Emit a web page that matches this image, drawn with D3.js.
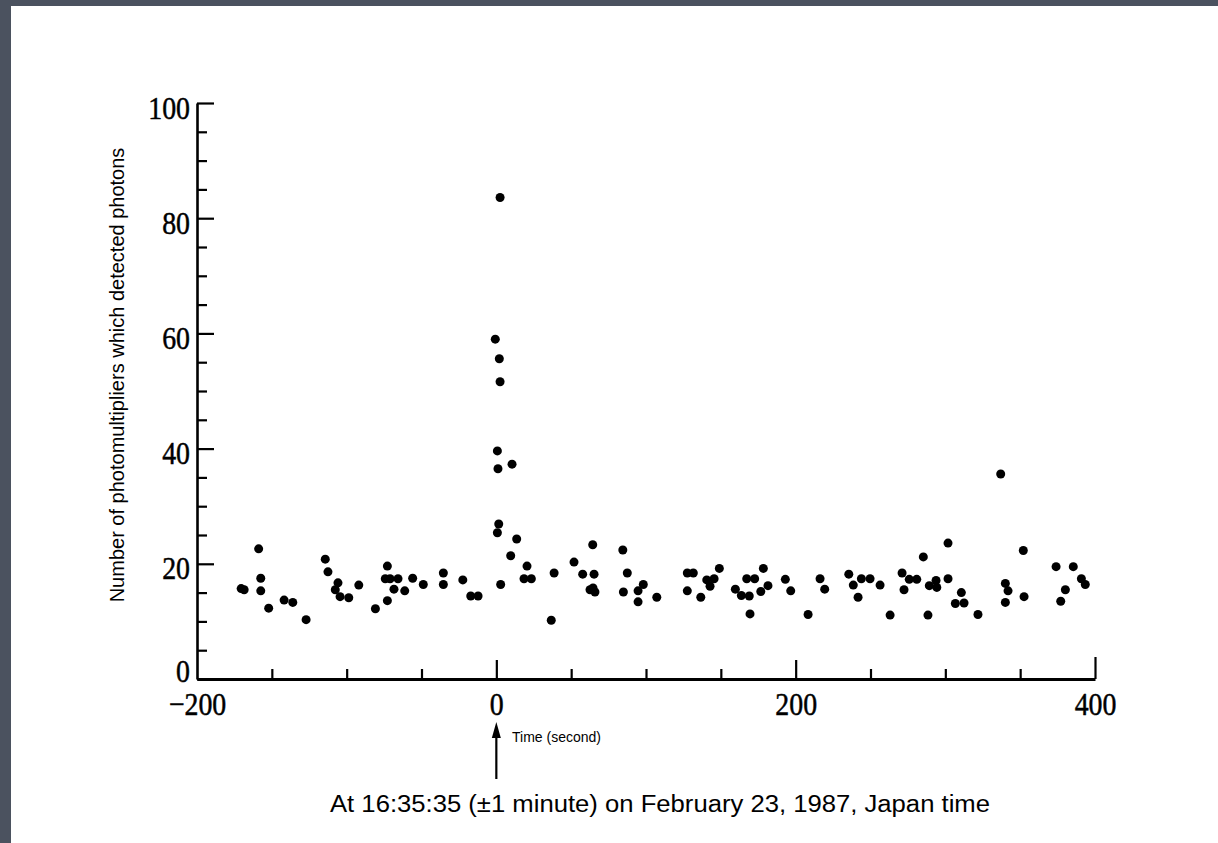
<!DOCTYPE html>
<html><head><meta charset="utf-8">
<script src="https://cdn.jsdelivr.net/npm/d3@7"></script>
<style>body{margin:0;background:#4b525f;overflow:hidden} svg{display:block}</style>
</head><body><svg id="c" width="1218" height="843"></svg>
<script>
// ---- data ----
const times = [-170.5,-168.5,-158.8,-157.4,-157.4,-152.1,-141.8,-136.0,-127.1,-114.3,-112.5,-105.8,-107.6,-104.4,-98.6,-91.9,-80.8,-72.8,-74.2,-71.0,-72.8,-68.4,-65.7,-61.2,-55.9,-48.8,-35.4,-35.4,-22.4,-17.1,-12.2,
2.5,-0.7,2.0,2.5,0.7,1.1,10.5,1.6,0.7,13.6,9.6,2.9,20.5,18.5,23.4,36.7,38.6,51.9,57.7,64.4,65.3,62.6,64.6,65.9,84.5,87.5,84.9,94.7,94.7,98.2,107.2,
127.6,131.6,127.6,136.6,140.6,145.5,142.8,149.0,159.7,163.7,169.0,167.3,172.6,169.5,178.4,176.7,181.5,193.1,196.7,208.3,216.3,219.4,235.5,238.5,243.9,249.7,241.7,256.4,263.1,
271.1,272.4,275.9,280.9,285.3,288.4,289.3,293.8,294.3,301.8,301.8,310.7,306.7,312.5,321.8,337.0,340.1,341.9,340.1,352.1,352.6,374.0,377.1,380.2,385.5,390.9,393.5];
const counts = [15.7,15.5,22.6,17.5,15.3,12.3,13.7,13.3,10.3,20.8,18.6,16.7,15.5,14.3,14.1,16.3,12.2,19.6,17.4,17.4,13.6,15.6,17.4,15.3,17.5,16.4,18.4,16.4,17.2,14.4,14.4,
83.6,59.0,55.6,51.6,39.6,36.5,37.3,26.9,25.4,24.3,21.4,16.4,19.6,17.4,17.4,10.2,18.4,20.3,18.2,23.3,18.2,15.5,15.8,15.1,22.4,18.4,15.1,13.4,15.3,16.4,14.2,
18.4,18.4,15.3,14.2,17.2,17.4,16.1,19.2,15.6,14.5,14.4,17.4,17.4,11.3,19.2,15.2,16.2,17.3,15.3,11.2,17.4,15.6,18.2,16.3,17.4,17.4,14.2,16.3,11.1,
18.4,15.5,17.3,17.3,21.2,11.1,16.2,17.1,15.9,23.6,17.4,15.0,13.1,13.2,11.2,35.6,16.6,15.3,13.3,22.3,14.3,19.5,13.5,15.5,19.5,17.4,16.4];
const xMajorTicks = [-200, 0, 200, 400];
const xMajorLabels = ["\u2212200", "0", "200", "400"];
const xMinorTicks = [-150, -100, -50, 50, 100, 150, 250, 300, 350];
const yMajorTicks = [0, 20, 40, 60, 80, 100];
const yMajorLabels = ["0", "20", "40", "60", "80", "100"];
const yMinorTicks = d3.range(5, 100, 5).filter(v => v % 20 !== 0);
const yTitle = "Number of photomultipliers which detected photons";
const xTitle = "Time (second)";
const note = "At 16:35:35 (\u00b11 minute) on February 23, 1987, Japan time";

// ---- drawing ----
const svg = d3.select("#c");
svg.append("rect").attr("x", 11).attr("y", 6).attr("width", 1207).attr("height", 837).attr("fill", "#fff");

const x = d3.scaleLinear().domain([-200, 400]).range([197, 1095]);
const y = d3.scaleLinear().domain([0, 100]).range([679, 103]);
const serif = "'Liberation Serif', 'Times New Roman', serif";
const sans = "'Liberation Sans', Arial, sans-serif";
const sx = 0.87;

// y axis: major ticks with labels
const yAx = svg.append("g").attr("transform", `translate(${x(-200)},0)`)
  .call(d3.axisLeft(y).tickValues(yMajorTicks).tickSizeInner(-17).tickSizeOuter(0).tickPadding(7)
    .tickFormat((d, i) => yMajorLabels[i]));
yAx.select(".domain").attr("stroke", "#000").attr("stroke-width", 2.6);
yAx.selectAll(".tick line").attr("stroke", "#000").attr("stroke-width", 2.2);
yAx.selectAll(".tick text")
  .attr("font-family", serif).attr("font-size", 32).attr("fill", "#000")
  .attr("stroke", "#000").attr("stroke-width", 0.5)
  .attr("x", -7 / sx)
  .attr("transform", `scale(${sx},1)`)
  .attr("dy", d => d === 0 ? 2 : 15);

// y minor ticks
const yMin = svg.append("g").attr("transform", `translate(${x(-200)},0)`)
  .call(d3.axisLeft(y).tickValues(yMinorTicks).tickSizeInner(-10).tickSizeOuter(0).tickFormat(""));
yMin.select(".domain").remove();
yMin.selectAll(".tick line").attr("stroke", "#000").attr("stroke-width", 2.2);

// x axis
const xAx = svg.append("g").attr("transform", `translate(0,${y(0)})`)
  .call(d3.axisBottom(x).tickValues(xMajorTicks).tickSizeInner(-19).tickSizeOuter(0).tickPadding(13)
    .tickFormat((d, i) => xMajorLabels[i]));
xAx.select(".domain").attr("stroke", "#000").attr("stroke-width", 2.8);
xAx.selectAll(".tick line").attr("stroke", "#000").attr("stroke-width", 2.2)
  .attr("y2", d => d === 400 ? -22 : (d === -200 ? 0 : -19));
xAx.selectAll(".tick text")
  .attr("font-family", serif).attr("font-size", 32).attr("fill", "#000")
  .attr("stroke", "#000").attr("stroke-width", 0.5)
  .attr("transform", `scale(${sx},1)`)
  .attr("x", 0);

const xMin = svg.append("g").attr("transform", `translate(0,${y(0)})`)
  .call(d3.axisBottom(x).tickValues(xMinorTicks).tickSizeInner(-10).tickSizeOuter(0).tickFormat(""));
xMin.select(".domain").remove();
xMin.selectAll(".tick line").attr("stroke", "#000").attr("stroke-width", 2.2);

// points
svg.append("g").selectAll("circle").data(times.map((t, i) => [t, counts[i]])).join("circle")
  .attr("cx", d => x(d[0])).attr("cy", d => y(d[1])).attr("r", 4.5).attr("fill", "#000");

// y title
svg.append("text").attr("transform", "translate(124,375) rotate(-90)")
  .attr("text-anchor", "middle").attr("font-family", sans)
  .attr("font-size", 20).attr("fill", "#000").text(yTitle);

// x title
svg.append("text").attr("x", 512).attr("y", 742)
  .attr("font-family", sans)
  .attr("font-size", 14).attr("fill", "#000").text(xTitle);

// arrow
const ax = x(0);
svg.append("line").attr("x1", ax).attr("x2", ax).attr("y1", 734).attr("y2", 779)
  .attr("stroke", "#000").attr("stroke-width", 2.2);
svg.append("path").attr("d", `M${ax},722 L${ax - 4.5},738 L${ax + 4.5},738 Z`).attr("fill", "#000");

// note
svg.append("text").attr("x", 660).attr("y", 812).attr("text-anchor", "middle")
  .attr("font-family", sans).attr("textLength", 660).attr("lengthAdjust", "spacingAndGlyphs")
  .attr("font-size", 23).attr("fill", "#000").text(note);
</script></body></html>
